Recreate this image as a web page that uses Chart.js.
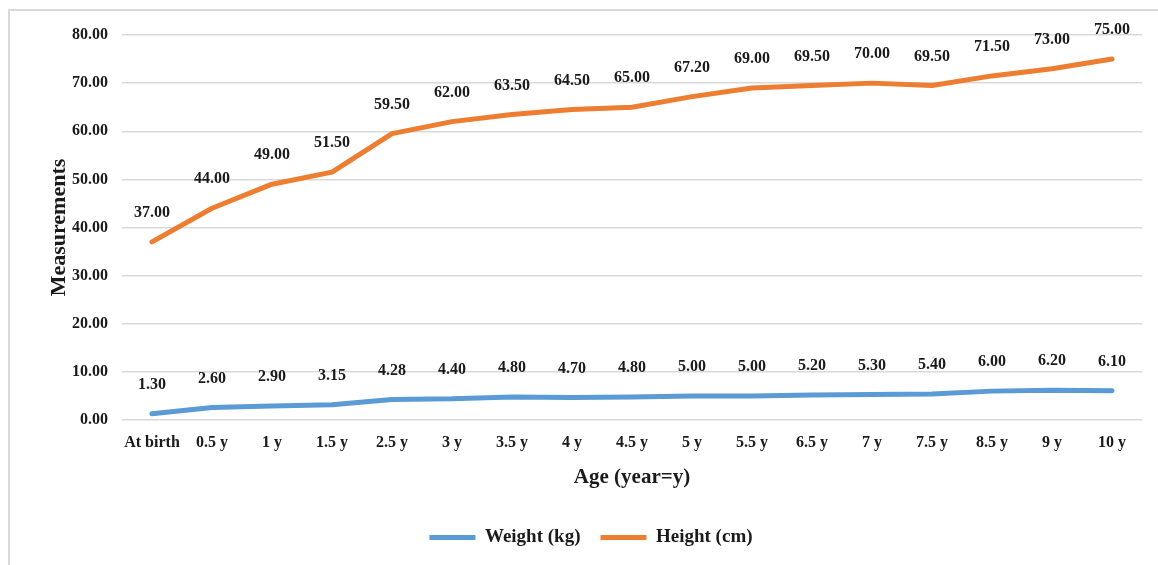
<!DOCTYPE html>
<html>
<head>
<meta charset="utf-8">
<script src="https://cdn.jsdelivr.net/npm/chart.js@4/dist/chart.umd.min.js"></script>
<style>
  html, body { margin: 0; padding: 0; background: #fff; }
  #wrap { position: relative; width: 1158px; height: 565px; }
  #frame { position: absolute; left: 8px; top: 9px; right: 0; bottom: 0;
           border-left: 2px solid #d9d9d9; border-top: 2px solid #d9d9d9; }
  canvas { position: absolute; left: 0; top: 0; }
</style>
</head>
<body>
<div id="wrap">
  <div id="frame"></div>
  <canvas id="c" width="1158" height="565"></canvas>
</div>
<script>
// data
const ages = ['At birth', '0.5 y', '1 y', '1.5 y', '2.5 y', '3 y', '3.5 y', '4 y', '4.5 y',
  '5 y', '5.5 y', '6.5 y', '7 y', '7.5 y', '8.5 y', '9 y', '10 y'];
const weightKg = [1.30, 2.60, 2.90, 3.15, 4.28, 4.40, 4.80, 4.70, 4.80,
  5.00, 5.00, 5.20, 5.30, 5.40, 6.00, 6.20, 6.10];
const heightCm = [37.00, 44.00, 49.00, 51.50, 59.50, 62.00, 63.50, 64.50, 65.00,
  67.20, 69.00, 69.50, 70.00, 69.50, 71.50, 73.00, 75.00];

const FONT = "'Liberation Serif', 'Times New Roman', serif";

// value labels above each point
const pointLabels = {
  id: 'pointLabels',
  afterDatasetsDraw(chart) {
    const ctx = chart.ctx;
    ctx.save();
    ctx.font = 'bold 16px ' + FONT;
    ctx.fillStyle = '#1a1a1a';
    ctx.textAlign = 'center';
    ctx.textBaseline = 'middle';
    chart.data.datasets.forEach((ds, i) => {
      chart.getDatasetMeta(i).data.forEach((pt, j) => {
        ctx.fillText(ds.data[j].toFixed(2), pt.x, pt.y - 29);
      });
    });
    ctx.restore();
  }
};

const lineStyle = {
  borderWidth: 5,
  pointRadius: 0,
  tension: 0,
  borderJoinStyle: 'round',
  borderCapStyle: 'round'
};

new Chart(document.getElementById('c'), {
  type: 'line',
  data: {
    labels: ages,
    datasets: [
      { label: 'Weight (kg)', data: weightKg, borderColor: '#5b9bd5', backgroundColor: '#5b9bd5', ...lineStyle },
      { label: 'Height (cm)', data: heightCm, borderColor: '#ed7d31', backgroundColor: '#ed7d31', ...lineStyle }
    ]
  },
  options: {
    responsive: false,
    animation: false,
    layout: { padding: { left: 40, right: 16, top: 35, bottom: 8 } },
    plugins: {
      tooltip: { enabled: false },
      legend: {
        position: 'bottom',
        labels: {
          usePointStyle: true,
          pointStyle: 'line',
          pointStyleWidth: 46,
          padding: 20,
          color: '#1a1a1a',
          font: { family: FONT, size: 19, weight: 'bold' }
        }
      }
    },
    scales: {
      x: {
        offset: true,
        grid: { display: false, drawTicks: false },
        border: { display: false },
        ticks: { color: '#1a1a1a', padding: 13, maxRotation: 0, autoSkip: false,
                 font: { family: FONT, size: 16, weight: 'bold' } },
        title: { display: true, text: 'Age (year=y)', color: '#1a1a1a', padding: { top: 0, bottom: 18 },
                 font: { family: FONT, size: 21, weight: 'bold' } },
        afterFit: s => { s.height = 88; }
      },
      y: {
        min: 0, max: 80,
        grid: { color: '#d9d9d9', lineWidth: 1.5, drawTicks: false },
        border: { display: false },
        ticks: { stepSize: 10, color: '#1a1a1a', padding: 14,
                 callback: v => v.toFixed(2),
                 font: { family: FONT, size: 16, weight: 'bold' } },
        title: { display: true, text: 'Measurements', color: '#1a1a1a', padding: { top: 6, bottom: 0 },
                 font: { family: FONT, size: 22, weight: 'bold' } },
        afterFit: s => { s.width = 82; }
      }
    }
  },
  plugins: [pointLabels]
});
</script>
</body>
</html>
